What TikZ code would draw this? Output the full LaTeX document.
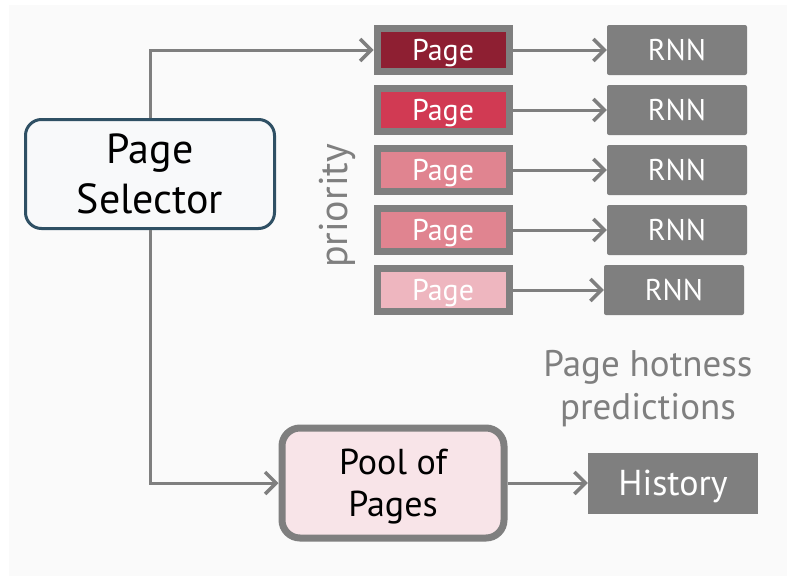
\documentclass[tikz,border=0pt]{standalone}
\usepackage{fontspec}
\setmainfont{PT Sans}
\usetikzlibrary{arrows.meta}
\definecolor{panel}{HTML}{FAFAFA}
\definecolor{boxgray}{HTML}{7F7F7F}
\definecolor{selborder}{HTML}{2F5064}
\definecolor{selfill}{HTML}{F8F9FA}
\definecolor{poolfill}{HTML}{F8E4E8}
\definecolor{prioA}{HTML}{8E1F32}
\definecolor{prioB}{HTML}{D13A53}
\definecolor{prioC}{HTML}{E08490}
\definecolor{prioD}{HTML}{E08490}
\definecolor{prioE}{HTML}{EEB6BF}
\tikzset{
  pagebox/.style={draw=boxgray, line width=7pt, minimum width=132pt, minimum height=43pt,
    inner sep=0pt, text=white, text depth=0pt, font=\fontsize{30}{32}\selectfont},
  rnnbox/.style={fill=boxgray, rounded corners=2pt, minimum width=140pt, minimum height=50pt,
    inner sep=0pt, text=white, text depth=0pt, font=\fontsize{30}{32}\selectfont},
  link/.style={draw=boxgray, line width=3pt,
    -{Straight Barb[length=11pt, width=22pt, line width=3.5pt]}},
}
\begin{document}
\begin{tikzpicture}[x=1pt, y=-1pt]
  \useasboundingbox (0,0) rectangle (787,576);
  \fill[white] (0,0) rectangle (787,576);
  \fill[panel] (9,5) rectangle (787,576);

  % selector
  \node[draw=selborder, fill=selfill, line width=3pt, rounded corners=16pt,
        minimum width=249pt, minimum height=109pt, align=center, text depth=0pt,
        font=\fontsize{42}{50}\selectfont] (sel) at (150,174) {Page\\Selector};

  % prioritised pages and their predictors
  \foreach \i/\c/\y/\rx in {1/prioA/50/677, 2/prioB/110/677, 3/prioC/170/677, 4/prioD/230/677, 5/prioE/290/674}{
    \node[pagebox, fill=\c] (p\i) at (443,\y) {Page};
    \node[rnnbox] (r\i) at (\rx,\y) {RNN};
    \draw[link] (p\i.east) -- (r\i.west);
  }

  \node[rotate=90, text=boxgray, font=\fontsize{40}{42}\selectfont] (prio) at (337,206) {priority};

  \node[text=boxgray, align=center, text depth=0pt, font=\fontsize{37}{43}\selectfont] (hot) at (648,385)
    {Page hotness\\predictions};

  % pool and history
  \node[draw=boxgray, fill=poolfill, line width=7pt, rounded corners=18pt,
        minimum width=222pt, minimum height=110pt, align=center, text depth=0pt,
        font=\fontsize{36}{42}\selectfont] (pool) at (393,483) {Pool of\\Pages};
  \node[fill=boxgray, minimum width=170pt, minimum height=61pt, inner sep=0pt,
        text=white, text depth=0pt, font=\fontsize{36}{40}\selectfont] (hist) at (673,483) {History};

  \draw[link] (pool.east) -- (hist.west);
  \draw[link] (sel.north) |- (p1.west);
  \draw[link] (sel.south) |- (pool.west);
\end{tikzpicture}
\end{document}
